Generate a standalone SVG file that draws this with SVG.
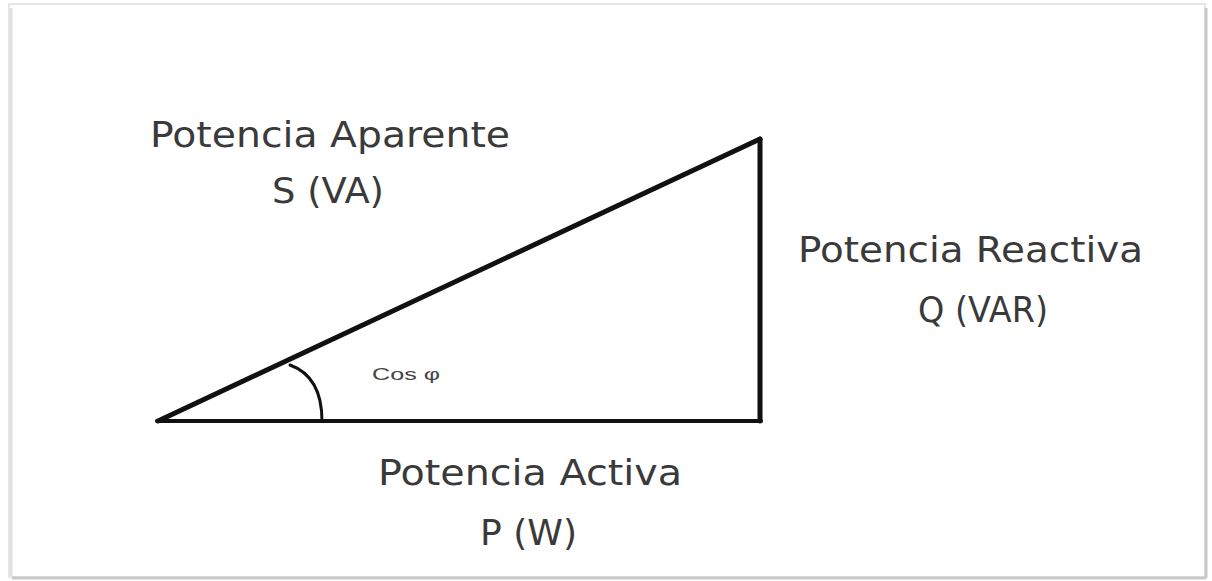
<svg xmlns="http://www.w3.org/2000/svg" width="1212" height="581" viewBox="0 0 1212 581">
<defs>
<style>
.lbl{font-family:"DejaVu Sans","Liberation Sans",sans-serif;font-size:35px;fill:#3a3a3a}
.small{font-family:"Liberation Sans","DejaVu Sans",sans-serif;font-size:16px;fill:#444}
.edge{fill:none;stroke:#111;stroke-linecap:round;stroke-linejoin:miter}
</style>
</defs>
<rect width="1212" height="581" fill="#ffffff"/>
<g id="frame">
<rect x="9" y="4" width="1196" height="573" fill="#fff" stroke="#e6e6e6" stroke-width="2"/>
<line x1="1206" y1="8" x2="1206" y2="578" stroke="#c8c8c8" stroke-width="3"/>
<line x1="12" y1="578" x2="1206" y2="578" stroke="#c8c8c8" stroke-width="3"/>
<line x1="11" y1="8" x2="11" y2="576" stroke="#e0e0e0" stroke-width="3"/>
</g>
<g id="connectors">
<line class="edge" x1="157" y1="421" x2="761" y2="421" stroke-width="4"/>
<line class="edge" x1="158" y1="421" x2="760" y2="139" stroke-width="5"/>
<line class="edge" x1="760" y1="139" x2="760" y2="421" stroke-width="5"/>
<path class="edge" d="M290,365 C312,373 322,392 322,421" stroke-width="3"/>
</g>
<g id="node-apparent">
<text class="lbl" x="150" y="147" textLength="360" lengthAdjust="spacingAndGlyphs">Potencia Aparente</text>
<text class="lbl" x="272" y="203" textLength="112" lengthAdjust="spacingAndGlyphs">S (VA)</text>
</g>
<g id="node-reactive">
<text class="lbl" x="798" y="262" textLength="345" lengthAdjust="spacingAndGlyphs">Potencia Reactiva</text>
<text class="lbl" x="918" y="322" textLength="130" lengthAdjust="spacingAndGlyphs">Q (VAR)</text>
</g>
<g id="node-active">
<text class="lbl" x="378" y="485" textLength="304" lengthAdjust="spacingAndGlyphs">Potencia Activa</text>
<text class="lbl" x="480" y="545" textLength="97" lengthAdjust="spacingAndGlyphs">P (W)</text>
</g>
<g id="node-angle">
<text class="small" x="372" y="380" textLength="68" lengthAdjust="spacingAndGlyphs">Cos φ</text>
</g>
</svg>
